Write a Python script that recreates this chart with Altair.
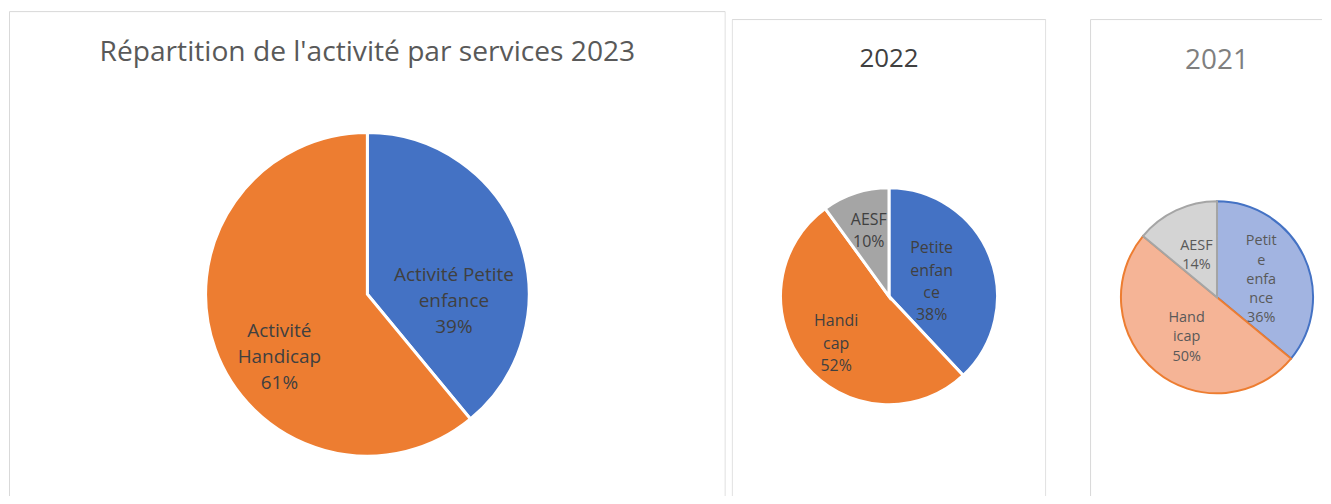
import altair as alt
import pandas as pd

# ---------------- data ----------------
CATS_2023 = ["Activité Petite enfance", "Activité Handicap"]
VALS_2023 = [39, 61]
LABELS_2023 = ["Activité Petite\nenfance", "Activité\nHandicap"]

CATS_2022 = ["Petite enfance", "Handicap", "AESF"]
VALS_2022 = [38, 52, 10]
LABELS_2022 = ["Petite\nenfan\nce", "Handi\ncap", "AESF"]

CATS_2021 = ["Petite enfance", "Handicap", "AESF"]
VALS_2021 = [36, 50, 14]
LABELS_2021 = ["Petit\ne\nenfa\nnce", "Hand\nicap", "AESF"]

TITLES = ["Répartition de l'activité par services 2023", "2022", "2021"]

# ---------------- style ----------------
BLUE, ORANGE, GRAY = "#4472C4", "#ED7D31", "#A5A5A5"
LIGHT = ["#A2B4E1", "#F5B496", "#D4D4D4"]
FONT = "Open Sans"
H = 488


def frame(cats, vals, labels):
    return pd.DataFrame({
        "cat": cats,
        "value": vals,
        "idx": list(range(len(cats))),
        "txt": [f"{l}\n{v}%" for l, v in zip(labels, vals)],
    })


def panel(df, width, box, cx, cy, r, fills, stroke, stroke_w,
          label_specs, lsize, lheight, lcolor,
          title, ty, tsize, tcolor):
    cats = list(df["cat"])
    border = alt.Chart(pd.DataFrame({"a": [0]})).mark_rect(
        fill="transparent", stroke="#D9D9D9", strokeWidth=1, clip=True
    ).encode(x=alt.value(box[0]), x2=alt.value(box[1]),
             y=alt.value(box[2]), y2=alt.value(box[3]))

    enc = dict(theta=alt.Theta("value:Q", stack=True),
               order=alt.Order("idx:Q"),
               x=alt.value(cx), y=alt.value(cy))
    base = alt.Chart(df)
    arc_enc = dict(enc)
    arc_enc["color"] = alt.Color("cat:N", scale=alt.Scale(domain=cats, range=fills), legend=None)
    if isinstance(stroke, list):
        arc_enc["stroke"] = alt.Stroke("cat:N", scale=alt.Scale(domain=cats, range=stroke), legend=None)
        arc = base.mark_arc(radius=r, strokeWidth=stroke_w).encode(**arc_enc)
    else:
        arc = base.mark_arc(radius=r, stroke=stroke, strokeWidth=stroke_w).encode(**arc_enc)

    layers = [border, arc]
    for i, (R, dx, dy) in enumerate(label_specs):
        n_lines = df["txt"].iloc[i].count("\n") + 1
        layers.append(
            base.transform_calculate(show=f"datum.idx == {i} ? datum.txt : ''")
            .mark_text(radius=R, dx=dx, dy=dy - (n_lines - 1) * lheight / 2,
                       font=FONT, fontSize=lsize,
                       lineHeight=lheight, lineBreak="\n", color=lcolor,
                       align="center", baseline="middle")
            .encode(text="show:N", **enc)
        )
    ttl = alt.Chart(pd.DataFrame({"t": [title]})).mark_text(
        font=FONT, fontSize=tsize, color=tcolor, align="center", baseline="alphabetic"
    ).encode(text="t:N", x=alt.value(cx), y=alt.value(ty))
    layers.append(ttl)
    return alt.layer(*layers).properties(width=width, height=H)


W1, W2, W3 = 720, 316, 233

p1 = panel(frame(CATS_2023, VALS_2023, LABELS_2023), W1,
           (0.5, W1 - 0.5, 1.5, H + 40), W1 / 2, 285.5, 162.5,
           [BLUE, ORANGE], "white", 3,
           [(86, 6, 36), (112, 17, 25)], 19, 26, "#404040",
           TITLES[0], 51.5, 28.3, "#595959")

p2 = panel(frame(CATS_2022, VALS_2022, LABELS_2022), W2,
           (0.5, W2 - 0.5, 9.5, H + 40), W2 / 2, 287.5, 109,
           [BLUE, ORANGE, GRAY], "white", 3,
           [(45, 1, 2), (71.5, 2, 2), (69, 1, 0)], 16, 22.5, "#404040",
           TITLES[1], 57.5, 26, "#404040")

p3 = panel(frame(CATS_2021, VALS_2021, LABELS_2021), W3,
           (0.5, W3 + 40, 9.5, H + 40), 127.5, 288.5, 96.5,
           LIGHT, [BLUE, ORANGE, GRAY], 2,
           [(48, 1, 3), (51, 2, 1), (46, -1, 0)], 14.5, 19.3, "#595959",
           TITLES[2], 59.5, 28, "#7F7F7F")

inner = alt.hconcat(p1, p2, spacing=4).resolve_scale(
    color="independent", stroke="independent", theta="independent")
chart = alt.hconcat(inner, p3, spacing=42).resolve_scale(
    color="independent", stroke="independent", theta="independent"
).properties(padding=0).configure_view(stroke="transparent")

chart.save("out.html", embed_options={"renderer": "svg", "actions": False})
